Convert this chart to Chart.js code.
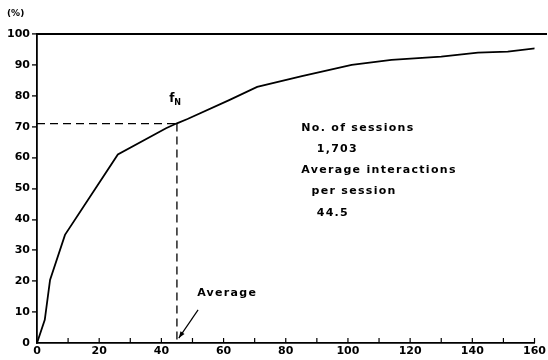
<!DOCTYPE html>
<html><head><meta charset="utf-8">
<script src="https://cdn.jsdelivr.net/npm/chart.js@4"></script>
<style>html,body{margin:0;padding:0;background:#fff}#wrap{width:548px;height:360px}</style>
</head><body><div id="wrap"><canvas id="c" width="548" height="360"></canvas></div>
<script>
// Cumulative distribution of interactions per session
const curveX = [0, 2.5, 4.2, 9, 26, 41.5, 45, 48.4, 61.8, 70.8, 85.2, 101.2, 114, 130, 141.8, 151.4, 160.4];
const curveY = [0, 7.5, 20.4, 35, 61, 69.5, 71.1, 72.5, 78.6, 82.9, 86.4, 90, 91.6, 92.7, 94, 94.3, 95.4];
const averageX = 45;      // position of the "Average" marker
const averageY = 71;      // f_N at the average
const xTicks = [0, 20, 40, 60, 80, 100, 120, 140, 160];
const yTicks = [0, 10, 20, 30, 40, 50, 60, 70, 80, 90, 100];
const infoLines = ["No. of sessions", "   1,703", "Average interactions", "  per session", "   44.5"];
const infoPos = {x: 85, y: 69.6};          // data position of the info block
const fnLabelPos = {x: 42.5, y: 79};
const avgLabelPos = {x: 51.5, y: 16};
const arrowFrom = {x: 51.8, y: 10.7};
const arrowTo = {x: 45.6, y: 1.6};

const FONT = 'bold 11px "DejaVu Sans"';

const annot = {
  id: 'annot',
  afterDraw(chart) {
    const {ctx, scales: {x, y}, chartArea} = chart;
    ctx.save();
    ctx.fillStyle = '#000';
    ctx.strokeStyle = '#000';
    // top frame line at 100%, running on to the right edge
    ctx.lineWidth = 1.8;
    const ty = y.getPixelForValue(100);
    ctx.beginPath(); ctx.moveTo(chartArea.left, ty); ctx.lineTo(chart.width - 1, ty); ctx.stroke();
    // inward x ticks
    ctx.lineWidth = 1.2;
    for (let v = 10; v <= 160; v += 10) {
      const px = x.getPixelForValue(v);
      ctx.beginPath(); ctx.moveTo(px, chartArea.bottom); ctx.lineTo(px, chartArea.bottom - 5); ctx.stroke();
    }
    // (%) unit label
    ctx.font = 'bold 9px "DejaVu Sans"';
    ctx.textAlign = 'left'; ctx.textBaseline = 'middle';
    ctx.fillText('(%)', 7, 14);
    // info block
    ctx.font = FONT;
    ctx.letterSpacing = '1.3px';
    ctx.textBaseline = 'middle';
    const ix = x.getPixelForValue(infoPos.x);
    let iy = y.getPixelForValue(infoPos.y);
    infoLines.forEach((t, i) => {
      ctx.fillText(t, ix, iy + i * 21.2);
    });
    // f_N
    ctx.letterSpacing = '0px';
    ctx.font = 'bold 12px "DejaVu Sans"';
    const fx = x.getPixelForValue(fnLabelPos.x), fy = y.getPixelForValue(fnLabelPos.y);
    ctx.fillText('f', fx, fy);
    ctx.font = 'bold 8px "DejaVu Sans"';
    ctx.fillText('N', fx + 5, fy + 4);
    // Average label
    ctx.font = FONT;
    ctx.letterSpacing = '1.3px';
    ctx.fillText('Average', x.getPixelForValue(avgLabelPos.x), y.getPixelForValue(avgLabelPos.y));
    // arrow
    const ax0 = x.getPixelForValue(arrowFrom.x), ay0 = y.getPixelForValue(arrowFrom.y);
    const ax1 = x.getPixelForValue(arrowTo.x), ay1 = y.getPixelForValue(arrowTo.y);
    ctx.lineWidth = 1.2;
    ctx.beginPath(); ctx.moveTo(ax0, ay0); ctx.lineTo(ax1, ay1); ctx.stroke();
    const ang = Math.atan2(ay1 - ay0, ax1 - ax0);
    ctx.beginPath();
    ctx.moveTo(ax1, ay1);
    ctx.lineTo(ax1 - 7 * Math.cos(ang - 0.35), ay1 - 7 * Math.sin(ang - 0.35));
    ctx.lineTo(ax1 - 7 * Math.cos(ang + 0.35), ay1 - 7 * Math.sin(ang + 0.35));
    ctx.closePath(); ctx.fill();
    ctx.restore();
  }
};

new Chart(document.getElementById('c'), {
  type: 'scatter',
  data: {
    datasets: [
      {
        data: curveX.map((v, i) => ({x: v, y: curveY[i]})),
        showLine: true, borderColor: '#000', borderWidth: 1.8, pointRadius: 0, tension: 0
      },
      {
        data: [{x: 0, y: averageY}, {x: averageX, y: averageY}],
        showLine: true, borderColor: '#000', borderWidth: 1.3, borderDash: [8, 5], pointRadius: 0
      },
      {
        data: [{x: averageX, y: averageY}, {x: averageX, y: 0}],
        showLine: true, borderColor: '#000', borderWidth: 1.3, borderDash: [8, 5], pointRadius: 0
      }
    ]
  },
  options: {
    responsive: false, animation: false,
    layout: {padding: {top: 34, right: 0, left: 0, bottom: 0}},
    plugins: {legend: {display: false}, tooltip: {enabled: false}},
    scales: {
      x: {
        type: 'linear', min: 0, max: 160,
        afterBuildTicks: s => { s.ticks = xTicks.map(v => ({value: v})); },
        afterFit: s => { s.height = 17; },
        grid: {display: false, drawTicks: false},
        border: {display: true, color: '#000', width: 1.8},
        ticks: {color: '#000', font: {family: 'DejaVu Sans', weight: 'bold', size: 11}, padding: 2, maxRotation: 0, autoSkip: false}
      },
      y: {
        min: 0, max: 100,
        afterBuildTicks: s => { s.ticks = yTicks.map(v => ({value: v})); },
        afterFit: s => { s.width = 37; },
        grid: {
          drawOnChartArea: false, drawTicks: true, tickLength: 5,
          color: '#000',
          tickColor: c => (c.tick && c.tick.value === 0) ? 'rgba(0,0,0,0)' : '#000',
          lineWidth: 1.8, tickWidth: 1.3
        },
        border: {display: true, color: '#000', width: 1.8},
        ticks: {color: '#000', font: {family: 'DejaVu Sans', weight: 'bold', size: 11}, padding: 2}
      }
    }
  },
  plugins: [annot]
});
</script>
</body></html>
